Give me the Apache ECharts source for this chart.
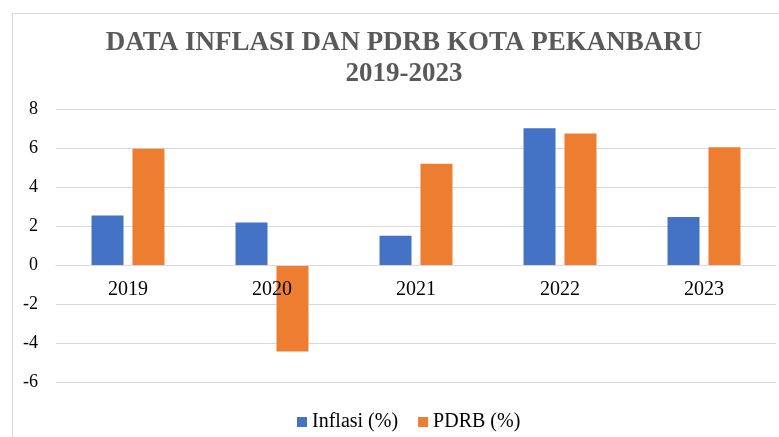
<!DOCTYPE html>
<html>
<head>
<meta charset="utf-8">
<script src="https://cdn.jsdelivr.net/npm/echarts@6/dist/echarts.min.js"></script>
<style>
html,body{margin:0;padding:0;background:#fff;}
#c{width:779px;height:437px;}
</style>
</head>
<body>
<div id="c"></div>
<script>
var categories = ['2019', '2020', '2021', '2022', '2023'];
var inflasi = [2.54, 2.18, 1.50, 7.01, 2.46];
var pdrb = [5.96, -4.43, 5.19, 6.74, 6.04];
var seriesNames = ['Inflasi (%)', 'PDRB (%)'];
var titleText = 'DATA INFLASI DAN PDRB KOTA PEKANBARU\n2019-2023';

var chart = echarts.init(document.getElementById('c'), null, {renderer: 'canvas'});
var serif = '"Liberation Serif", "Times New Roman", serif';
chart.setOption({
  animation: false,
  backgroundColor: '#ffffff',
  title: {
    text: titleText,
    left: 399,
    top: 23,
    textAlign: 'center',
    textStyle: {
      fontFamily: serif,
      fontWeight: 'bold',
      fontSize: 27,
      lineHeight: 31,
      color: '#595959'
    }
  },
  legend: {
    data: seriesNames,
    left: 292,
    top: 407,
    itemWidth: 10,
    itemHeight: 10,
    itemGap: 20,
    icon: 'rect',
    textStyle: {fontFamily: serif, fontSize: 20, color: '#000'}
  },
  grid: {left: 56, right: 3, top: 109, bottom: 55, containLabel: false},
  xAxis: {
    type: 'category',
    data: categories,
    position: 'bottom',
    offset: -117,
    z: 10,
    axisLine: {onZero: false, lineStyle: {color: '#d9d9d9', width: 1}},
    axisTick: {show: false},
    axisLabel: {fontFamily: serif, fontSize: 20, color: '#000', margin: 15}
  },
  yAxis: {
    type: 'value',
    min: -6,
    max: 8,
    interval: 2,
    axisLine: {show: false},
    axisTick: {show: false},
    axisLabel: {fontFamily: serif, fontSize: 18, color: '#000', margin: 18},
    splitLine: {lineStyle: {color: '#d9d9d9', width: 1}}
  },
  series: [
    {name: seriesNames[0], type: 'bar', data: inflasi, barWidth: 32, barGap: '28%',
     itemStyle: {color: '#4472C4'}},
    {name: seriesNames[1], type: 'bar', data: pdrb, barWidth: 32, barGap: '28%',
     itemStyle: {color: '#ED7D31'}}
  ],
  graphic: [
    {type: 'line', shape: {x1: 12, y1: 13.5, x2: 779, y2: 13.5}, style: {stroke: '#d9d9d9', lineWidth: 1}, silent: true},
    {type: 'line', shape: {x1: 12.5, y1: 13, x2: 12.5, y2: 437}, style: {stroke: '#d9d9d9', lineWidth: 1}, silent: true}
  ]
});
</script>
</body>
</html>
